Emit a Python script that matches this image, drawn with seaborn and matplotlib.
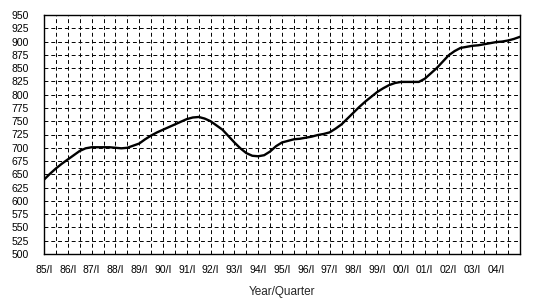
import matplotlib
matplotlib.use("Agg")
import matplotlib.pyplot as plt
import seaborn as sns
import pandas as pd
import numpy as np

# Quarterly values, 85/I .. 05/I
values = [640, 651, 661, 670, 678, 686, 694, 699, 701, 701,
          701, 701, 700, 699, 700, 704, 708, 716, 723, 729,
          734, 739, 744, 749, 754, 757, 758, 755, 750, 742,
          734, 722, 710, 699, 690, 685, 684, 686, 693, 703,
          710, 713, 716, 717, 719, 721, 724, 726, 729, 736,
          744, 755, 766, 777, 787, 796, 805, 812, 818, 822,
          824, 824, 824, 824, 830, 840, 850, 862, 874, 882,
          888, 890, 892, 893, 895, 897, 899, 900, 902, 905, 909]
years = ["85", "86", "87", "88", "89", "90", "91", "92", "93", "94",
         "95", "96", "97", "98", "99", "00", "01", "02", "03", "04"]
year_labels = [y + "/I" for y in years]
y_ticks = list(range(500, 951, 25))

df = pd.DataFrame({"q": np.arange(len(values)), "v": values})

sns.set_style("white")
plt.rcParams["font.family"] = ["Liberation Sans", "DejaVu Sans"]

fig = plt.figure(figsize=(5.4, 3.07), dpi=100)
ax = fig.add_axes([44/540, 1-254/307, 476/540, 239/307])

sns.lineplot(data=df, x="q", y="v", ax=ax, color="black", linewidth=1.7)

ax.set_xlim(0, 80)
ax.set_ylim(500, 950)
ax.set_yticks(y_ticks)
ax.set_yticklabels([str(t) for t in y_ticks], fontsize=7.5)
ax.set_xticks(np.arange(0, 80, 2), minor=False)
ax.set_xticklabels([year_labels[i // 4] if i % 4 == 0 else "" for i in range(0, 80, 2)], fontsize=7.5)

ax.grid(True, which="major", color="black", linestyle=(0, (4, 3)), linewidth=0.7)
ax.set_axisbelow(True)
for s in ax.spines.values():
    s.set_visible(True)
    s.set_color("black")
    s.set_linewidth(1.0)
ax.tick_params(axis="both", direction="inout", length=6, width=0.8, color="black",
               labelcolor="black")
ax.tick_params(axis="x", pad=5)
ax.tick_params(axis="y", pad=8)
ax.set_xlabel("Year/Quarter", fontsize=8.5, labelpad=8)
ax.set_ylabel("")

fig.savefig("out.png", dpi=100, facecolor="white")
